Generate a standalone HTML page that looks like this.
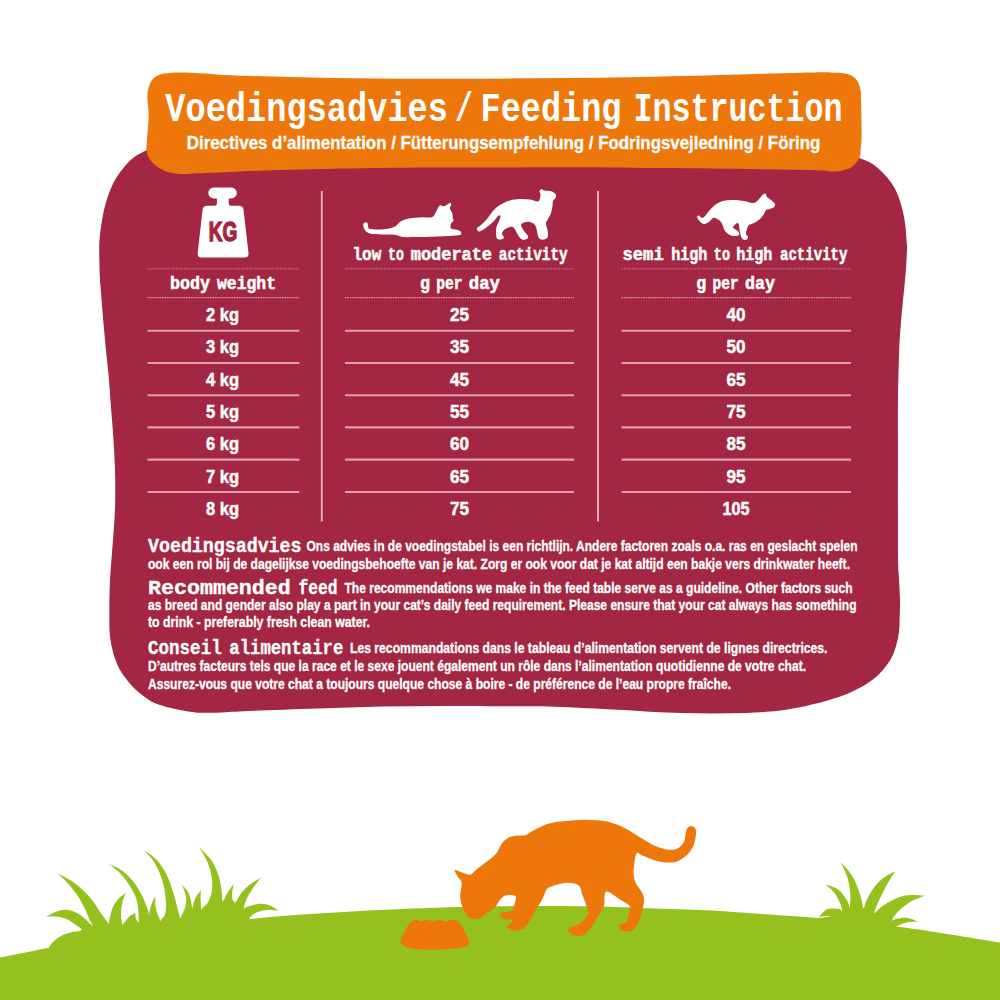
<!DOCTYPE html>
<html><head><meta charset="utf-8"><title>Feeding Instruction</title>
<style>
html,body{margin:0;padding:0;background:#fff;}
body{width:1000px;height:1000px;overflow:hidden;font-family:"Liberation Sans",sans-serif;}
svg{display:block}
text{fill:#fff;}
.ser{font-family:"Liberation Serif",serif;font-weight:bold;}
.san{font-family:"Liberation Sans",sans-serif;font-weight:bold;}
.mono{font-family:"Liberation Mono",monospace;font-weight:bold;stroke:#fff;stroke-width:0.55px;}
.monot{font-family:"Liberation Mono",monospace;font-weight:bold;}
.monoh{font-family:"Liberation Mono",monospace;font-weight:bold;stroke:#fff;stroke-width:0.35px;}
.hd{font-family:"Liberation Serif",serif;font-weight:bold;font-size:19.5px;}
.bd{font-family:"Liberation Sans",sans-serif;font-weight:bold;font-size:15.4px;stroke:#fff;stroke-width:0.3px;}
.cells text{font-family:"Liberation Sans",sans-serif;font-weight:bold;font-size:18.5px;text-anchor:middle;stroke:#fff;stroke-width:0.5px;}
</style></head>
<body>
<svg width="1000" height="1000" viewBox="0 0 1000 1000">
<rect width="1000" height="1000" fill="#fff"/>
<path d="M147.0,149.0C146.8,149.2 148.0,149.2 146.0,150.5C144.0,151.8 138.5,153.9 135.0,156.5C131.5,159.1 128.3,162.1 125.0,166.0C121.7,169.9 117.8,175.0 115.0,180.0C112.2,185.0 110.0,190.2 108.0,196.0C106.0,201.8 104.4,207.7 103.0,215.0C101.6,222.3 100.1,232.2 99.5,240.0C98.9,247.8 99.3,255.3 99.4,262.0C99.5,268.7 99.6,273.7 100.0,280.0C100.4,286.3 101.1,293.3 101.6,300.0C102.1,306.7 102.6,313.3 103.2,320.0C103.8,326.7 104.4,333.3 105.0,340.0C105.6,346.7 106.3,353.3 107.0,360.0C107.7,366.7 108.4,373.3 109.0,380.0C109.6,386.7 109.9,393.3 110.4,400.0C110.9,406.7 111.5,413.3 112.0,420.0C112.5,426.7 113.1,433.3 113.5,440.0C113.9,446.7 114.3,453.3 114.6,460.0C114.9,466.7 115.1,473.3 115.2,480.0C115.3,486.7 115.3,493.3 115.2,500.0C115.1,506.7 114.8,513.3 114.4,520.0C114.0,526.7 113.5,533.3 113.0,540.0C112.5,546.7 111.9,553.3 111.4,560.0C110.9,566.7 110.3,573.3 110.0,580.0C109.7,586.7 109.5,593.3 109.4,600.0C109.3,606.7 109.4,615.0 109.4,620.0C109.4,625.0 109.3,626.7 109.5,630.0C109.7,633.3 110.0,636.7 110.5,640.0C111.0,643.3 111.7,646.7 112.5,650.0C113.3,653.3 114.2,656.7 115.5,660.0C116.8,663.3 118.1,666.7 120.0,670.0C121.9,673.3 124.3,676.7 127.0,680.0C129.7,683.3 132.3,686.7 136.0,690.0C139.7,693.3 145.0,697.5 149.0,700.0C153.0,702.5 155.7,703.5 160.0,705.0C164.3,706.5 170.0,707.9 175.0,709.0C180.0,710.1 185.8,711.2 190.0,711.8C194.2,712.4 194.7,712.7 200.0,712.8C205.3,712.9 213.0,712.7 222.0,712.4C231.0,712.1 238.0,711.4 254.0,710.8C270.0,710.2 296.7,709.3 318.0,708.6C339.3,707.9 360.7,707.0 382.0,706.6C403.3,706.2 424.7,706.0 446.0,706.0C467.3,706.0 492.0,706.2 510.0,706.3C528.0,706.4 536.0,706.2 554.0,706.8C572.0,707.4 602.0,709.0 618.0,709.8C634.0,710.6 639.3,711.3 650.0,711.8C660.7,712.3 671.3,712.7 682.0,713.0C692.7,713.3 703.3,713.4 714.0,713.4C724.7,713.4 735.3,713.4 746.0,713.0C756.7,712.6 769.0,711.8 778.0,710.8C787.0,709.8 794.3,708.3 800.0,707.3C805.7,706.3 808.0,705.5 812.0,704.6C816.0,703.7 819.4,702.9 824.0,701.6C828.6,700.3 834.6,698.6 839.6,696.8C844.6,695.0 849.4,693.0 854.0,690.8C858.6,688.6 863.2,686.2 867.2,683.6C871.2,681.0 874.8,678.2 878.0,675.2C881.2,672.2 884.0,668.8 886.4,665.6C888.8,662.4 890.7,659.6 892.4,656.0C894.1,652.4 895.5,648.0 896.6,644.0C897.7,640.0 898.5,636.0 899.0,632.0C899.5,628.0 899.4,625.3 899.6,620.0C899.8,614.7 900.1,607.5 900.0,600.0C899.9,592.5 899.1,583.3 898.8,575.0C898.4,566.7 898.1,570.8 898.0,550.0C897.9,529.2 898.0,475.0 898.0,450.0C898.0,425.0 897.8,416.7 898.0,400.0C898.2,383.3 898.8,362.5 899.2,350.0C899.7,337.5 900.1,333.3 900.8,325.0C901.4,316.7 902.2,308.3 903.0,300.0C903.8,291.7 904.8,283.3 905.5,275.0C906.2,266.7 906.8,255.8 907.0,250.0C907.2,244.2 906.8,244.5 906.5,240.0C906.2,235.5 905.8,228.3 905.0,223.0C904.2,217.7 903.3,213.0 902.0,208.0C900.7,203.0 899.0,197.5 897.0,193.0C895.0,188.5 892.8,184.8 890.0,181.0C887.2,177.2 883.3,173.1 880.0,170.0C876.7,166.9 873.5,164.5 870.0,162.5C866.5,160.5 861.2,158.9 859.0,158.0C856.8,157.1 857.3,157.2 857.0,157.0L845,120L160,120Z" fill="#a32743"/>
<path d="M148.0,90.0C148.8,86.7 150.3,82.4 152.0,80.0C153.7,77.6 155.8,76.6 158.0,75.5C160.2,74.4 161.3,74.0 165.0,73.5C168.7,73.0 173.3,72.5 180.0,72.5C186.7,72.5 195.8,73.0 205.0,73.5C214.2,74.0 214.2,74.8 235.0,75.5C255.8,76.2 297.5,77.5 330.0,78.0C362.5,78.5 396.7,78.7 430.0,78.7C463.3,78.8 496.7,78.5 530.0,78.3C563.3,78.0 596.7,77.8 630.0,77.2C663.3,76.6 700.0,75.6 730.0,74.8C760.0,74.0 793.3,73.0 810.0,72.6C826.7,72.2 824.2,72.3 830.0,72.5C835.8,72.7 841.2,72.8 845.0,73.5C848.8,74.2 850.8,75.1 853.0,76.5C855.2,77.9 856.8,79.8 858.0,82.0C859.2,84.2 860.0,87.0 860.5,90.0C861.0,93.0 860.8,95.0 861.0,100.0C861.2,105.0 861.4,113.3 861.5,120.0C861.6,126.7 861.7,135.0 861.5,140.0C861.3,145.0 860.8,147.3 860.5,150.0C860.2,152.7 860.8,153.8 860.0,156.0C859.2,158.2 857.7,161.0 856.0,163.0C854.3,165.0 852.7,166.7 850.0,168.0C847.3,169.3 843.3,170.4 840.0,171.0C836.7,171.6 833.3,171.6 830.0,171.5C826.7,171.4 831.7,170.9 820.0,170.5C808.3,170.1 786.7,169.6 760.0,169.2C733.3,168.8 693.3,168.3 660.0,168.0C626.7,167.7 590.0,167.3 560.0,167.2C530.0,167.1 510.0,167.5 480.0,167.6C450.0,167.7 413.3,167.6 380.0,168.0C346.7,168.4 305.0,169.3 280.0,170.0C255.0,170.7 244.2,171.4 230.0,172.0C215.8,172.6 202.5,173.2 195.0,173.5C187.5,173.8 188.3,174.0 185.0,174.0C181.7,174.0 178.3,174.0 175.0,173.5C171.7,173.0 168.3,172.4 165.0,171.0C161.7,169.6 157.7,167.2 155.0,165.0C152.3,162.8 150.4,160.5 149.0,158.0C147.6,155.5 146.8,153.0 146.5,150.0C146.2,147.0 146.7,145.0 147.0,140.0C147.3,135.0 148.2,125.0 148.5,120.0C148.8,115.0 148.7,113.3 148.5,110.0C148.3,106.7 147.6,103.3 147.5,100.0C147.4,96.7 147.2,93.3 148.0,90.0Z" fill="#ee770b"/>
<text x="165.3" y="121.2" class="monot" font-size="40.5" textLength="282.7" lengthAdjust="spacingAndGlyphs">Voedingsadvies</text><text x="455.0" y="121.2" class="monot" font-size="40.5" textLength="18.0" lengthAdjust="spacingAndGlyphs">/</text><text x="480.5" y="121.2" class="monot" font-size="40.5" textLength="141.0" lengthAdjust="spacingAndGlyphs">Feeding</text><text x="633.5" y="121.2" class="monot" font-size="40.5" textLength="209.0" lengthAdjust="spacingAndGlyphs">Instruction</text>
<text class="san" stroke="#fff" stroke-width="0.3" x="186.8" y="148.8" font-size="18.6" textLength="633.5" lengthAdjust="spacingAndGlyphs">Directives d’alimentation / Fütterungsempfehlung / Fodringsvejledning / Föring</text>
<g stroke="#dd9fb0" fill="none"><line x1="147.5" y1="268.7" x2="299.3" y2="268.7" stroke-dasharray="1.6,1" stroke-width="2" opacity="0.4"/><line x1="147.5" y1="297.6" x2="299.3" y2="297.6" stroke-dasharray="1.6,0.8" stroke-width="1.3" opacity="0.9"/><line x1="147.5" y1="330.7" x2="299.3" y2="330.7" stroke-width="2.1"/><line x1="147.5" y1="363.0" x2="299.3" y2="363.0" stroke-width="2.1"/><line x1="147.5" y1="395.2" x2="299.3" y2="395.2" stroke-width="2.1"/><line x1="147.5" y1="427.4" x2="299.3" y2="427.4" stroke-width="2.1"/><line x1="147.5" y1="459.6" x2="299.3" y2="459.6" stroke-width="2.1"/><line x1="147.5" y1="492.0" x2="299.3" y2="492.0" stroke-width="2.1"/><line x1="345.0" y1="268.7" x2="574.0" y2="268.7" stroke-dasharray="1.6,1" stroke-width="2" opacity="0.4"/><line x1="345.0" y1="297.6" x2="574.0" y2="297.6" stroke-dasharray="1.6,0.8" stroke-width="1.3" opacity="0.9"/><line x1="345.0" y1="330.7" x2="574.0" y2="330.7" stroke-width="2.1"/><line x1="345.0" y1="363.0" x2="574.0" y2="363.0" stroke-width="2.1"/><line x1="345.0" y1="395.2" x2="574.0" y2="395.2" stroke-width="2.1"/><line x1="345.0" y1="427.4" x2="574.0" y2="427.4" stroke-width="2.1"/><line x1="345.0" y1="459.6" x2="574.0" y2="459.6" stroke-width="2.1"/><line x1="345.0" y1="492.0" x2="574.0" y2="492.0" stroke-width="2.1"/><line x1="621.5" y1="268.7" x2="851.0" y2="268.7" stroke-dasharray="1.6,1" stroke-width="2" opacity="0.4"/><line x1="621.5" y1="297.6" x2="851.0" y2="297.6" stroke-dasharray="1.6,0.8" stroke-width="1.3" opacity="0.9"/><line x1="621.5" y1="330.7" x2="851.0" y2="330.7" stroke-width="2.1"/><line x1="621.5" y1="363.0" x2="851.0" y2="363.0" stroke-width="2.1"/><line x1="621.5" y1="395.2" x2="851.0" y2="395.2" stroke-width="2.1"/><line x1="621.5" y1="427.4" x2="851.0" y2="427.4" stroke-width="2.1"/><line x1="621.5" y1="459.6" x2="851.0" y2="459.6" stroke-width="2.1"/><line x1="621.5" y1="492.0" x2="851.0" y2="492.0" stroke-width="2.1"/><line x1="321.8" y1="191" x2="321.8" y2="521.5" stroke-width="2" stroke="#eaa9b8"/><line x1="598" y1="191" x2="598" y2="521.5" stroke-width="2" stroke="#eaa9b8"/></g>
<!-- weight icon -->
<g fill="#fff">
<rect x="208.3" y="187.6" width="28.5" height="10.8" rx="5.3"/><path d="M216.9,196 H228.7 V203.5 Q228.7,205.7 231,205.7 H239 Q243,205.7 243.5,209.5 L248.5,253 Q248.9,257.5 244.5,257.5 H201.6 Q197.3,257.5 197.7,253 L202.6,209.5 Q203,205.7 207,205.7 H214.6 Q216.9,205.7 216.9,203.5 Z"/>
<path d="M363.4,223.8C363.6,222.8 364.5,222.5 365.2,222.4C365.9,222.3 367.1,222.4 367.6,223.2C368.1,224.0 367.5,226.4 368.2,227.4C368.9,228.4 369.0,228.9 371.8,229.2C374.6,229.5 381.2,229.6 385.0,229.2C388.8,228.8 392.0,228.1 394.6,226.8C397.2,225.5 398.2,222.8 400.6,221.4C403.0,220.0 405.4,219.1 409.0,218.4C412.6,217.7 418.4,217.4 422.2,217.2C426.0,217.0 429.6,217.9 431.8,217.2C434.0,216.5 434.4,214.5 435.4,213.0C436.4,211.5 437.0,209.5 437.8,208.2C438.6,206.9 439.2,205.5 440.2,205.2C441.2,204.9 442.6,206.5 443.8,206.4C445.0,206.3 446.3,205.2 447.4,204.6C448.5,204.0 449.8,202.6 450.4,202.8C451.0,203.0 451.1,204.9 451.0,205.8C450.9,206.7 449.6,207.0 449.8,208.2C450.0,209.4 451.7,211.4 452.2,213.0C452.7,214.6 452.6,216.5 452.8,217.8C453.0,219.1 453.7,219.8 453.4,220.8C453.1,221.8 451.4,222.5 451.0,223.8C450.6,225.1 450.0,227.6 451.0,228.6C452.0,229.6 455.4,229.3 457.0,229.8C458.6,230.3 459.9,231.0 460.6,231.6C461.3,232.2 461.6,232.8 461.2,233.4C460.8,234.0 461.9,234.7 458.2,235.2C454.5,235.7 446.2,236.1 439.0,236.4C431.8,236.7 421.0,236.9 415.0,237.0C409.0,237.1 406.0,237.3 403.0,237.0C400.0,236.7 400.0,235.6 397.0,235.2C394.0,234.8 389.0,234.8 385.0,234.6C381.0,234.4 376.0,234.4 373.0,234.0C370.0,233.6 368.5,233.1 367.0,232.2C365.5,231.3 364.6,230.0 364.0,228.6C363.4,227.2 363.2,224.8 363.4,223.8Z"/>
<path d="M477.0,228.0C477.5,227.0 479.3,226.5 481.0,225.0C482.7,223.5 485.0,221.3 487.0,219.0C489.0,216.7 490.8,213.3 493.0,211.0C495.2,208.7 497.2,206.8 500.0,205.0C502.8,203.2 506.7,201.5 510.0,200.5C513.3,199.5 516.7,199.2 520.0,199.0C523.3,198.8 527.0,199.1 530.0,199.5C533.0,199.9 536.3,201.8 538.0,201.5C539.7,201.2 539.6,199.2 540.0,198.0C540.4,196.8 540.6,195.2 540.5,194.0C540.4,192.8 539.3,191.8 539.5,191.0C539.7,190.2 540.7,189.3 541.5,189.2C542.3,189.1 543.1,190.2 544.5,190.5C545.9,190.8 548.3,190.6 550.0,191.0C551.7,191.4 553.5,192.2 554.5,193.0C555.5,193.8 555.9,194.5 556.0,195.5C556.1,196.5 555.5,198.2 555.0,199.0C554.5,199.8 553.4,199.3 553.0,200.5C552.6,201.7 552.8,203.9 552.5,206.0C552.2,208.1 551.8,210.8 551.0,213.0C550.2,215.2 548.8,217.3 548.0,219.0C547.2,220.7 546.2,221.5 546.0,223.0C545.8,224.5 546.7,226.3 547.0,228.0C547.3,229.7 547.9,231.4 548.0,233.0C548.1,234.6 548.2,236.4 547.5,237.5C546.8,238.6 545.2,239.2 544.0,239.5C542.8,239.8 541.0,239.6 540.0,239.0C539.0,238.4 538.5,237.3 538.0,236.0C537.5,234.7 537.5,232.8 537.0,231.0C536.5,229.2 536.2,226.5 535.0,225.0C533.8,223.5 531.8,222.4 530.0,222.0C528.2,221.6 525.5,222.0 524.0,222.5C522.5,223.0 521.0,223.6 521.0,225.0C521.0,226.4 522.8,229.2 524.0,231.0C525.2,232.8 527.5,234.7 528.0,236.0C528.5,237.3 528.0,238.4 527.0,239.0C526.0,239.6 523.5,240.2 522.0,239.5C520.5,238.8 519.3,236.9 518.0,235.0C516.7,233.1 515.3,229.3 514.0,228.0C512.7,226.7 511.7,226.7 510.0,227.0C508.3,227.3 505.3,228.8 504.0,230.0C502.7,231.2 502.0,232.8 502.0,234.0C502.0,235.2 504.2,236.6 504.0,237.5C503.8,238.4 502.2,239.3 501.0,239.5C499.8,239.7 497.8,239.6 497.0,238.5C496.2,237.4 496.1,234.9 496.0,233.0C495.9,231.1 496.0,229.0 496.5,227.0C497.0,225.0 498.3,222.8 499.0,221.0C499.7,219.2 500.7,216.8 500.5,216.0C500.3,215.2 499.2,215.0 498.0,216.0C496.8,217.0 494.8,220.2 493.0,222.0C491.2,223.8 489.0,225.5 487.0,227.0C485.0,228.5 482.5,230.3 481.0,231.0C479.5,231.7 478.7,231.5 478.0,231.0C477.3,230.5 476.5,229.0 477.0,228.0Z"/>
<path d="M697.0,217.0C696.8,216.0 698.2,215.3 699.0,215.5C699.8,215.7 701.0,217.9 702.0,218.0C703.0,218.1 703.8,217.2 705.0,216.0C706.2,214.8 707.3,212.8 709.0,211.0C710.7,209.2 712.7,206.7 715.0,205.0C717.3,203.3 720.0,201.8 723.0,201.0C726.0,200.2 729.5,200.0 733.0,200.0C736.5,200.0 740.8,200.5 744.0,201.0C747.2,201.5 750.0,202.8 752.0,203.0C754.0,203.2 754.7,202.8 756.0,202.0C757.3,201.2 758.8,199.2 760.0,198.0C761.2,196.8 762.1,195.2 763.0,194.5C763.9,193.8 764.8,193.1 765.5,193.5C766.2,193.9 766.1,195.9 767.0,197.0C767.9,198.1 769.7,198.8 771.0,200.0C772.3,201.2 774.5,202.8 775.0,204.0C775.5,205.2 774.8,206.2 774.0,207.0C773.2,207.8 771.3,208.5 770.0,209.0C768.7,209.5 767.0,209.2 766.0,210.0C765.0,210.8 765.0,212.5 764.0,214.0C763.0,215.5 761.7,217.5 760.0,219.0C758.3,220.5 755.8,222.0 754.0,223.0C752.2,224.0 750.2,224.0 749.0,225.0C747.8,226.0 747.5,227.5 747.0,229.0C746.5,230.5 745.8,232.7 746.0,234.0C746.2,235.3 748.0,236.0 748.0,237.0C748.0,238.0 747.0,239.8 746.0,240.0C745.0,240.2 743.0,239.8 742.0,238.5C741.0,237.2 740.7,234.6 740.0,232.0C739.3,229.4 739.2,223.8 738.0,223.0C736.8,222.2 733.0,226.2 733.0,227.5C733.0,228.8 737.0,229.8 738.0,231.0C739.0,232.2 739.5,234.2 739.0,235.0C738.5,235.8 736.5,236.0 735.0,236.0C733.5,236.0 731.7,235.8 730.0,235.0C728.3,234.2 726.2,232.5 725.0,231.0C723.8,229.5 723.7,227.5 723.0,226.0C722.3,224.5 722.0,223.2 721.0,222.0C720.0,220.8 718.3,219.7 717.0,219.0C715.7,218.3 714.3,217.5 713.0,218.0C711.7,218.5 710.5,221.0 709.0,222.0C707.5,223.0 705.5,224.1 704.0,224.0C702.5,223.9 701.2,222.7 700.0,221.5C698.8,220.3 697.2,218.0 697.0,217.0Z"/>
</g>
<text class="san" x="223" y="241.3" font-size="28" text-anchor="middle" textLength="28.5" lengthAdjust="spacingAndGlyphs" style="fill:#a32743;stroke:#a32743;stroke-width:1.5px;stroke-linejoin:round">KG</text>
<text x="352.5" y="259.5" class="mono" font-size="19" textLength="28.8" lengthAdjust="spacingAndGlyphs">low</text><text x="388.0" y="259.5" class="mono" font-size="19" textLength="15.8" lengthAdjust="spacingAndGlyphs">to</text><text x="410.8" y="259.5" class="mono" font-size="19" textLength="81.2" lengthAdjust="spacingAndGlyphs">moderate</text><text x="498.8" y="259.5" class="mono" font-size="19" textLength="68.8" lengthAdjust="spacingAndGlyphs">activity</text><text x="420.0" y="288.5" class="mono" font-size="19" textLength="10.0" lengthAdjust="spacingAndGlyphs">g</text><text x="436.2" y="288.5" class="mono" font-size="19" textLength="26.2" lengthAdjust="spacingAndGlyphs">per</text><text x="468.8" y="288.5" class="mono" font-size="19" textLength="31.2" lengthAdjust="spacingAndGlyphs">day</text><text x="622.5" y="259.5" class="mono" font-size="19" textLength="41.2" lengthAdjust="spacingAndGlyphs">semi</text><text x="671.2" y="259.5" class="mono" font-size="19" textLength="36.2" lengthAdjust="spacingAndGlyphs">high</text><text x="713.8" y="259.5" class="mono" font-size="19" textLength="16.2" lengthAdjust="spacingAndGlyphs">to</text><text x="736.2" y="259.5" class="mono" font-size="19" textLength="36.2" lengthAdjust="spacingAndGlyphs">high</text><text x="780.0" y="259.5" class="mono" font-size="19" textLength="67.5" lengthAdjust="spacingAndGlyphs">activity</text><text x="696.2" y="288.5" class="mono" font-size="19" textLength="10.0" lengthAdjust="spacingAndGlyphs">g</text><text x="712.5" y="288.5" class="mono" font-size="19" textLength="26.2" lengthAdjust="spacingAndGlyphs">per</text><text x="745.0" y="288.5" class="mono" font-size="19" textLength="30.0" lengthAdjust="spacingAndGlyphs">day</text><text x="170.0" y="288.5" class="mono" font-size="19" textLength="40.0" lengthAdjust="spacingAndGlyphs">body</text><text x="217.0" y="288.5" class="mono" font-size="19" textLength="59.0" lengthAdjust="spacingAndGlyphs">weight</text>
<g class="cells"><text x="222.6" y="320.8" textLength="33" lengthAdjust="spacingAndGlyphs">2 kg</text><text x="459.5" y="320.8" textLength="19" lengthAdjust="spacingAndGlyphs">25</text><text x="736" y="320.8" textLength="19" lengthAdjust="spacingAndGlyphs">40</text><text x="222.6" y="353.2" textLength="33" lengthAdjust="spacingAndGlyphs">3 kg</text><text x="459.5" y="353.2" textLength="19" lengthAdjust="spacingAndGlyphs">35</text><text x="736" y="353.2" textLength="19" lengthAdjust="spacingAndGlyphs">50</text><text x="222.6" y="385.6" textLength="33" lengthAdjust="spacingAndGlyphs">4 kg</text><text x="459.5" y="385.6" textLength="19" lengthAdjust="spacingAndGlyphs">45</text><text x="736" y="385.6" textLength="19" lengthAdjust="spacingAndGlyphs">65</text><text x="222.6" y="418.0" textLength="33" lengthAdjust="spacingAndGlyphs">5 kg</text><text x="459.5" y="418.0" textLength="19" lengthAdjust="spacingAndGlyphs">55</text><text x="736" y="418.0" textLength="19" lengthAdjust="spacingAndGlyphs">75</text><text x="222.6" y="450.4" textLength="33" lengthAdjust="spacingAndGlyphs">6 kg</text><text x="459.5" y="450.4" textLength="19" lengthAdjust="spacingAndGlyphs">60</text><text x="736" y="450.4" textLength="19" lengthAdjust="spacingAndGlyphs">85</text><text x="222.6" y="482.8" textLength="33" lengthAdjust="spacingAndGlyphs">7 kg</text><text x="459.5" y="482.8" textLength="19" lengthAdjust="spacingAndGlyphs">65</text><text x="736" y="482.8" textLength="19" lengthAdjust="spacingAndGlyphs">95</text><text x="222.6" y="515.2" textLength="33" lengthAdjust="spacingAndGlyphs">8 kg</text><text x="459.5" y="515.2" textLength="19" lengthAdjust="spacingAndGlyphs">75</text><text x="736" y="515.2" textLength="27" lengthAdjust="spacingAndGlyphs">105</text></g>
<text x="148.0" y="551.5" class="monoh" font-size="20.5" textLength="153.5" lengthAdjust="spacingAndGlyphs">Voedingsadvies</text><text x="306.5" y="550.9" class="bd" text-anchor="start" textLength="551.0" lengthAdjust="spacingAndGlyphs">Ons advies in de voedingstabel is een richtlijn. Andere factoren zoals o.a. ras en geslacht spelen</text><text x="148.0" y="568.9" class="bd" text-anchor="start" textLength="702.0" lengthAdjust="spacingAndGlyphs">ook een rol bij de dagelijkse voedingsbehoefte van je kat. Zorg er ook voor dat je kat altijd een bakje vers drinkwater heeft.</text><text x="148.0" y="593.5" class="monoh" font-size="20.5" textLength="142.8" lengthAdjust="spacingAndGlyphs">Recommended</text><text x="298.6" y="593.5" class="monoh" font-size="20.5" textLength="39.0" lengthAdjust="spacingAndGlyphs">feed</text><text x="344.5" y="592.9" class="bd" text-anchor="start" textLength="508.0" lengthAdjust="spacingAndGlyphs">The recommendations we make in the feed table serve as a guideline. Other factors such</text><text x="148.0" y="609.9" class="bd" text-anchor="start" textLength="708.5" lengthAdjust="spacingAndGlyphs">as breed and gender also play a part in your cat’s daily feed requirement. Please ensure that your cat always has something</text><text x="148.0" y="627.2" class="bd" text-anchor="start" textLength="222.0" lengthAdjust="spacingAndGlyphs">to drink - preferably fresh clean water.</text><text x="148.0" y="654.0" class="monoh" font-size="20.5" textLength="73.7" lengthAdjust="spacingAndGlyphs">Conseil</text><text x="229.3" y="654.0" class="monoh" font-size="20.5" textLength="114.0" lengthAdjust="spacingAndGlyphs">alimentaire</text><text x="350.0" y="653.4" class="bd" text-anchor="start" textLength="477.5" lengthAdjust="spacingAndGlyphs">Les recommandations dans le tableau d’alimentation servent de lignes directrices.</text><text x="148.0" y="671.2" class="bd" text-anchor="start" textLength="658.0" lengthAdjust="spacingAndGlyphs">D’autres facteurs tels que la race et le sexe jouent également un rôle dans l’alimentation quotidienne de votre chat.</text><text x="148.0" y="688.8" class="bd" text-anchor="start" textLength="583.0" lengthAdjust="spacingAndGlyphs">Assurez-vous que votre chat a toujours quelque chose à boire - de préférence de l’eau propre fraîche.</text>
<!-- ground -->
<g fill="#95c11f">
<path d="M0.0,957.6C4.0,956.8 16.0,954.4 24.0,952.8C32.0,951.2 35.3,950.3 48.0,948.0C60.7,945.7 83.0,941.8 100.0,939.0C117.0,936.2 123.3,934.5 150.0,931.0C176.7,927.5 225.0,921.3 260.0,918.0C295.0,914.7 326.7,912.8 360.0,911.0C393.3,909.2 430.0,907.8 460.0,907.0C490.0,906.2 516.7,906.1 540.0,906.0C563.3,905.9 583.3,906.2 600.0,906.5C616.7,906.8 623.3,907.4 640.0,908.0C656.7,908.6 683.3,909.3 700.0,910.0C716.7,910.7 720.0,911.0 740.0,912.4C760.0,913.8 793.3,915.8 820.0,918.2C846.7,920.6 878.3,924.3 900.0,927.0C921.7,929.7 933.3,931.9 950.0,934.5C966.7,937.1 991.7,941.2 1000.0,942.5L1000,1000L0,1000Z"/>
<path d="M46.3,916.7C48.0,915.8 53.2,912.5 56.8,911.4C60.4,910.3 64.3,909.5 68.0,910.0C71.7,910.5 75.9,912.3 79.2,914.2C82.5,916.1 85.3,919.1 87.6,921.2C89.9,923.3 91.3,924.5 93.2,926.8C95.1,929.1 97.9,933.8 98.8,935.2L84.8,938.0C84.3,936.6 83.4,931.7 82.0,929.6C80.6,927.5 78.7,927.0 76.4,925.4C74.1,923.8 71.0,921.2 68.0,919.8C65.0,918.4 61.8,917.2 58.2,916.7C54.6,916.2 48.3,916.7 46.3,916.7Z"/><path d="M57.5,873.3C59.7,874.5 66.5,877.8 70.8,880.6C75.1,883.4 79.7,886.9 83.4,890.4C87.1,893.9 90.2,897.6 93.2,901.6C96.2,905.6 99.0,910.5 101.6,914.2C104.2,917.9 106.7,920.5 108.6,924.0C110.5,927.5 112.1,933.3 112.8,935.2L96.0,936.6C95.5,935.0 94.4,929.8 93.2,926.8C92.0,923.8 90.4,921.4 89.0,918.4C87.6,915.4 86.7,912.3 84.8,908.6C82.9,904.9 80.6,900.2 77.8,896.0C75.0,891.8 71.4,887.2 68.0,883.4C64.6,879.6 59.2,875.0 57.5,873.3Z"/><path d="M125.7,892.9C124.5,893.9 120.5,896.4 118.4,898.8C116.3,901.2 114.2,904.2 112.8,907.2C111.4,910.2 110.7,914.2 110.0,917.0C109.3,919.8 108.9,921.0 108.6,924.0C108.2,927.0 108.0,933.3 107.9,935.2L124.0,935.2C123.8,933.6 123.1,928.2 122.6,925.4C122.1,922.6 121.4,921.0 121.2,918.4C121.0,915.8 121.0,912.8 121.2,910.0C121.4,907.2 121.9,904.4 122.6,901.6C123.3,898.8 125.2,894.4 125.7,892.9Z"/><path d="M135.2,912.8C134.3,913.4 131.2,914.9 129.6,916.3C128.0,917.7 126.6,919.7 125.4,921.2C124.2,922.7 123.3,923.1 122.6,925.4C121.9,927.7 121.4,933.6 121.2,935.2L140.8,935.2C140.3,933.1 138.8,925.4 138.0,922.6C137.2,919.8 136.4,920.0 135.9,918.4C135.4,916.8 135.3,913.7 135.2,912.8Z"/><path d="M108.6,863.8C110.7,864.8 117.2,867.3 121.2,870.1C125.2,872.9 129.1,876.7 132.4,880.6C135.7,884.4 138.5,889.0 140.8,893.2C143.1,897.4 145.0,902.1 146.4,905.8C147.8,909.5 148.5,910.7 149.2,915.6C149.9,920.5 150.4,931.9 150.6,935.2L138.0,935.2C138.1,932.9 138.7,925.9 138.7,921.2C138.7,916.5 138.6,911.4 138.0,907.2C137.4,903.0 136.8,900.0 135.2,896.0C133.6,892.0 130.8,887.2 128.2,883.4C125.6,879.5 123.1,876.2 119.8,872.9C116.5,869.6 110.5,865.3 108.6,863.8Z"/><path d="M155.5,896.0C154.9,897.2 152.9,900.7 152.0,903.0C151.1,905.3 150.4,907.8 149.9,910.0C149.4,912.2 149.4,912.1 149.2,916.3C149.0,920.5 148.6,932.0 148.5,935.2L163.2,935.2C162.7,932.9 161.3,924.7 160.4,921.2C159.5,917.7 158.4,916.8 157.6,914.2C156.8,911.6 155.8,908.8 155.5,905.8C155.1,902.8 155.5,897.6 155.5,896.0Z"/><path d="M143.6,849.8C145.7,851.4 152.5,855.6 156.2,859.6C159.9,863.6 163.2,868.2 166.0,873.6C168.8,879.0 171.0,885.7 173.0,891.8C175.0,897.9 176.7,905.6 177.9,910.0C179.1,914.4 179.4,913.7 180.0,918.4C180.6,923.1 181.2,934.7 181.4,938.0L157.6,938.0C158.1,935.2 159.2,924.9 160.4,921.2C161.6,917.5 163.7,918.2 164.6,915.6C165.5,913.0 166.0,910.0 166.0,905.8C166.0,901.6 165.5,895.5 164.6,890.4C163.7,885.3 162.3,879.9 160.4,875.0C158.5,870.1 156.2,865.2 153.4,861.0C150.6,856.8 145.2,851.7 143.6,849.8Z"/><path d="M181.7,884.5C182.7,885.7 186.5,889.2 188.0,891.8C189.5,894.4 190.1,897.4 190.8,900.2C191.5,903.0 191.7,904.6 192.2,908.6C192.7,912.6 193.4,921.4 193.6,924.0L176.8,929.6C177.3,928.0 178.2,923.5 179.6,919.8C181.0,916.1 184.1,911.2 185.2,907.2C186.2,903.2 186.5,899.8 185.9,896.0C185.3,892.2 182.4,886.4 181.7,884.5Z"/><path d="M200.9,890.4C200.0,891.6 197.0,894.8 195.7,897.4C194.4,900.0 193.5,903.7 192.9,905.8C192.3,907.9 192.4,907.0 192.2,910.0C192.0,913.0 191.6,921.7 191.5,924.0L202.0,924.0C201.9,921.7 201.5,914.0 201.3,910.0C201.1,906.0 200.7,903.5 200.6,900.2C200.5,896.9 200.8,892.0 200.9,890.4Z"/><path d="M199.2,847.0C201.3,849.3 208.5,856.1 211.8,861.0C215.1,865.9 217.2,871.5 218.8,876.4C220.4,881.3 221.0,886.2 221.6,890.4C222.2,894.6 222.1,896.0 222.3,901.6C222.5,907.2 222.9,920.3 223.0,924.0L199.2,924.0C199.5,921.7 199.9,913.5 201.3,910.0C202.7,906.5 205.8,906.0 207.6,903.0C209.3,900.0 211.1,896.0 211.8,891.8C212.5,887.6 212.5,882.7 211.8,877.8C211.1,872.9 209.7,867.5 207.6,862.4C205.5,857.3 200.6,849.6 199.2,847.0Z"/><path d="M233.8,883.7C232.7,885.3 228.9,890.4 227.2,893.2C225.5,896.0 224.5,898.7 223.7,900.2C222.9,901.7 222.6,898.3 222.3,902.3C221.9,906.3 221.7,920.4 221.6,924.0L236.3,924.0C236.1,920.6 235.5,907.7 234.9,903.7C234.3,899.7 233.3,901.9 232.8,900.2C232.3,898.4 231.9,896.0 232.1,893.2C232.3,890.4 233.5,885.3 233.8,883.7Z"/><path d="M261.1,877.5C259.2,878.7 252.9,882.2 249.6,884.8C246.3,887.4 243.4,890.4 241.2,893.2C239.0,896.0 237.3,899.8 236.3,901.6C235.2,903.3 235.5,900.0 234.9,903.7C234.3,907.4 233.1,920.6 232.8,924.0L244.0,924.0C244.0,921.4 243.6,912.6 244.0,908.6C244.3,904.6 244.7,903.5 246.1,900.2C247.5,896.9 249.9,892.8 252.4,889.0C254.9,885.2 259.6,879.4 261.1,877.5Z"/><path d="M278.3,910.7C277.0,909.9 273.5,907.0 270.6,905.8C267.7,904.6 264.1,903.7 260.8,903.7C257.5,903.7 253.8,904.9 251.0,905.8C248.2,906.7 246.1,906.3 244.0,909.3C241.9,912.3 239.3,921.5 238.4,924.0L248.2,929.6C248.3,928.0 248.2,922.2 248.9,919.8C249.6,917.3 250.6,916.3 252.4,914.9C254.1,913.5 256.6,912.3 259.4,911.4C262.2,910.5 266.0,909.8 269.2,909.7C272.3,909.6 276.8,910.5 278.3,910.7Z"/><path d="M818.9,917.2C820.2,915.9 823.4,910.9 826.6,909.5C829.7,908.1 835.2,908.4 837.8,908.8C840.4,909.1 840.6,909.7 842.0,911.6C843.4,913.5 845.5,918.6 846.2,920.0L842.0,922.8C841.8,922.3 842.9,921.1 840.6,920.0C838.3,918.9 831.6,916.5 828.0,916.1C824.4,915.6 820.4,917.0 818.9,917.2Z"/><path d="M825.2,884.3C827.3,885.1 834.3,886.7 837.8,889.2C841.3,891.6 844.2,896.0 846.2,899.0C848.2,902.0 849.0,904.4 849.7,907.4C850.4,910.4 850.3,915.6 850.4,917.2L842.0,920.0C842.0,918.6 842.2,914.2 842.0,911.6C841.8,909.0 841.8,907.6 840.6,904.6C839.4,901.6 837.6,896.8 835.0,893.4C832.4,890.0 826.8,885.8 825.2,884.3Z"/><path d="M840.6,861.9C842.5,864.1 848.8,870.4 851.8,875.2C854.8,880.0 856.9,885.2 858.8,890.6C860.7,896.0 862.2,902.5 863.0,907.4C863.8,912.3 863.6,917.9 863.7,920.0L849.0,920.0C849.1,917.9 849.5,911.6 849.7,907.4C849.9,903.2 850.7,899.7 850.4,894.8C850.0,889.9 849.2,883.5 847.6,878.0C846.0,872.5 841.8,864.6 840.6,861.9Z"/><path d="M895.2,871.3C892.6,872.9 884.2,876.6 879.8,880.8C875.4,885.0 871.3,891.5 868.6,896.2C865.9,900.9 864.9,904.8 863.7,908.8C862.5,912.8 861.9,918.1 861.6,920.0L872.8,922.8C873.0,921.2 873.3,916.5 874.2,913.0C875.1,909.5 876.3,906.5 878.4,901.8C880.5,897.1 884.0,890.1 886.8,885.0C889.6,879.9 893.8,873.6 895.2,871.3Z"/><path d="M925.3,895.5C921.9,895.5 911.4,894.2 905.0,895.5C898.6,896.8 891.8,900.3 886.8,903.2C881.8,906.1 877.7,909.7 874.9,913.0C872.1,916.3 870.8,921.2 870.0,922.8L889.6,925.6C889.9,924.8 890.3,923.0 891.7,920.7C893.1,918.4 894.8,914.7 898.0,911.6C901.1,908.4 906.0,904.5 910.6,901.8C915.1,899.1 922.8,896.5 925.3,895.5Z"/><path d="M918.3,921.7C916.5,921.0 911.2,918.4 907.8,917.9C904.4,917.4 900.7,918.1 898.0,918.6C895.3,919.1 894.0,919.8 891.7,920.7C889.4,921.6 885.3,923.6 884.0,924.2L891.0,928.4C891.9,928.0 894.0,927.3 896.6,926.3C899.2,925.3 902.8,923.1 906.4,922.4C910.0,921.6 916.3,921.8 918.3,921.7Z"/><path d="M48.0,950.6L49.8,945.7L52.7,942.3L57.5,938.0L63.9,934.4L72.2,932.1L80.0,931.1L82.0,929.6L93.2,926.8L108.6,924.0L122.6,925.4L138.0,922.6L149.2,916.3L160.4,921.2L178.9,919.8L192.2,908.9L201.3,910.0L222.3,902.3L234.9,903.7L244.0,908.6L248.9,919.8L272.0,918.4L300.0,915.6L300.0,960.0L48.0,960.0Z"/><path d="M818.2,918.2L835.0,915.8L842.0,911.6L849.7,908.1L863.0,908.1L874.2,913.0L891.7,920.7L896.6,926.3L898.0,934.0L814.0,934.0Z"/>
</g>
<g fill="#ee770b">
<path d="M454.7,870.2C455.4,869.4 459.8,871.9 462.4,872.6C465.0,873.4 467.8,875.2 470.1,874.7C472.4,874.2 473.7,871.6 476.4,869.5C479.1,867.4 482.9,864.7 486.2,862.1C489.5,859.5 493.4,856.7 496.0,853.7C498.6,850.7 499.5,846.6 501.6,843.9C503.7,841.2 506.0,839.0 508.6,837.6C511.2,836.2 514.2,835.9 517.0,835.5C519.8,835.1 522.8,836.0 525.4,835.2C528.0,834.5 529.4,832.6 532.4,831.0C535.4,829.4 539.7,826.9 543.6,825.4C547.5,823.9 551.3,822.8 556.0,822.0C560.7,821.2 566.7,820.8 572.0,820.4C577.3,820.0 582.7,819.8 588.0,819.9C593.3,820.0 599.2,820.1 604.0,820.9C608.8,821.6 612.5,822.8 616.8,824.4C621.1,826.0 625.3,828.4 629.6,830.8C633.9,833.2 638.1,836.3 642.4,838.8C646.7,841.3 650.9,844.2 655.2,846.0C659.5,847.8 664.3,849.3 668.0,849.7C671.7,850.1 674.9,849.7 677.6,848.4C680.3,847.1 682.7,844.4 684.0,842.0C685.3,839.6 685.1,836.3 685.6,834.0C686.1,831.7 686.3,829.7 687.2,828.4C688.1,827.1 689.9,826.0 691.2,826.0C692.5,826.0 694.4,827.1 695.2,828.4C696.0,829.7 696.3,831.2 696.0,834.0C695.7,836.8 695.1,841.7 693.6,845.2C692.1,848.7 689.9,852.1 687.2,854.8C684.5,857.5 680.8,859.9 677.6,861.2C674.4,862.5 671.7,862.6 668.0,862.5C664.3,862.4 659.5,861.5 655.2,860.4C650.9,859.2 645.5,856.8 642.4,855.6C639.3,854.4 638.1,852.0 636.8,853.2C635.5,854.4 634.9,859.3 634.4,862.8C633.9,866.3 633.3,870.5 633.6,874.0C633.9,877.5 634.5,880.4 636.0,883.6C637.5,886.8 641.1,890.3 642.4,893.2C643.7,896.1 644.0,898.5 644.0,901.2C644.0,903.9 642.9,906.7 642.4,909.2C641.9,911.7 642.2,912.7 640.9,916.0C639.6,919.3 637.0,926.4 634.4,929.0C631.8,931.6 627.7,931.6 625.3,931.6C622.9,931.6 621.0,930.2 620.1,929.0C619.2,927.8 619.0,925.6 620.0,924.4C621.0,923.2 624.9,923.7 626.4,922.0C627.9,920.3 628.3,916.7 628.8,914.0C629.3,911.3 631.1,908.4 629.6,906.0C628.1,903.6 623.7,902.0 620.0,899.6C616.3,897.2 609.8,892.0 607.2,891.6C604.6,891.2 605.0,894.6 604.5,897.0C604.0,899.4 605.1,902.8 604.0,906.0C602.9,909.2 600.3,912.2 598.0,916.0C595.7,919.8 592.8,925.8 590.2,929.0C587.6,932.2 585.4,934.5 582.4,935.5C579.4,936.5 574.4,935.6 572.0,934.7C569.6,933.8 568.1,931.6 568.1,930.3C568.1,929.0 570.0,927.9 572.0,926.8C574.0,925.7 577.3,925.7 580.0,923.6C582.7,921.5 586.9,916.9 588.0,914.0C589.1,911.1 587.3,909.2 586.4,906.0C585.5,902.8 583.7,898.3 582.4,894.8C581.1,891.3 581.1,887.2 578.4,885.2C575.7,883.2 570.4,882.6 566.0,882.8C561.6,883.0 555.3,885.1 552.0,886.3C548.7,887.5 548.0,887.6 546.4,889.8C544.8,892.0 544.1,896.1 542.2,899.6C540.3,903.1 537.3,907.2 535.2,910.8C533.1,914.4 531.7,918.0 529.6,921.0C527.5,924.0 525.5,927.5 522.6,929.0C519.7,930.5 514.8,930.7 512.2,930.3C509.6,929.9 507.6,927.3 507.0,926.4C506.4,925.5 507.6,925.8 508.6,924.8C509.6,923.8 513.3,921.5 512.8,920.6C512.3,919.7 507.9,919.9 505.8,919.2C503.7,918.5 500.9,917.5 500.2,916.4C499.5,915.3 499.7,913.8 501.6,912.9C503.5,912.0 509.3,912.1 511.4,910.8C513.5,909.5 513.5,907.7 514.2,905.2C514.9,902.8 517.0,897.7 515.6,896.1C514.2,894.5 508.4,894.8 505.8,895.4C503.2,896.0 502.1,897.5 500.2,899.6C498.3,901.7 496.9,905.7 494.6,908.0C492.3,910.3 488.5,912.0 486.2,913.6C483.9,915.2 482.5,916.9 480.6,917.8C478.7,918.7 477.1,919.3 475.0,919.2C472.9,919.1 469.8,918.5 468.0,917.1C466.2,915.7 465.7,913.2 464.5,910.8C463.3,908.3 461.7,905.2 461.0,902.4C460.3,899.6 460.2,897.3 460.3,894.0C460.4,890.7 462.1,885.6 461.7,882.8C461.3,880.0 459.4,879.3 458.2,877.2C457.0,875.1 454.0,871.0 454.7,870.2Z"/>
<path d="M412.0,921.5C413.2,920.8 414.5,919.5 416.0,919.5C417.5,919.5 419.2,921.5 421.0,921.5C422.8,921.5 425.0,919.5 427.0,919.5C429.0,919.5 431.0,921.5 433.0,921.5C435.0,921.5 437.0,919.5 439.0,919.5C441.0,919.5 443.0,921.4 445.0,921.5C447.0,921.6 449.0,920.1 451.0,920.0C453.0,919.9 455.4,920.3 457.0,921.0C458.6,921.7 459.2,922.2 460.5,924.0C461.8,925.8 463.6,929.3 465.0,932.0C466.4,934.7 468.5,937.8 469.0,940.0C469.5,942.2 469.5,943.7 468.0,945.0C466.5,946.3 464.7,947.2 460.0,948.0C455.3,948.8 446.7,949.2 440.0,949.5C433.3,949.8 425.3,949.8 420.0,949.5C414.7,949.2 411.1,948.4 408.0,947.5C404.9,946.6 402.7,945.4 401.5,944.0C400.3,942.6 400.4,941.2 401.0,939.0C401.6,936.8 403.7,933.5 405.0,931.0C406.3,928.5 407.8,925.6 409.0,924.0C410.2,922.4 410.8,922.2 412.0,921.5Z"/>
</g>
</svg>
</body></html>
